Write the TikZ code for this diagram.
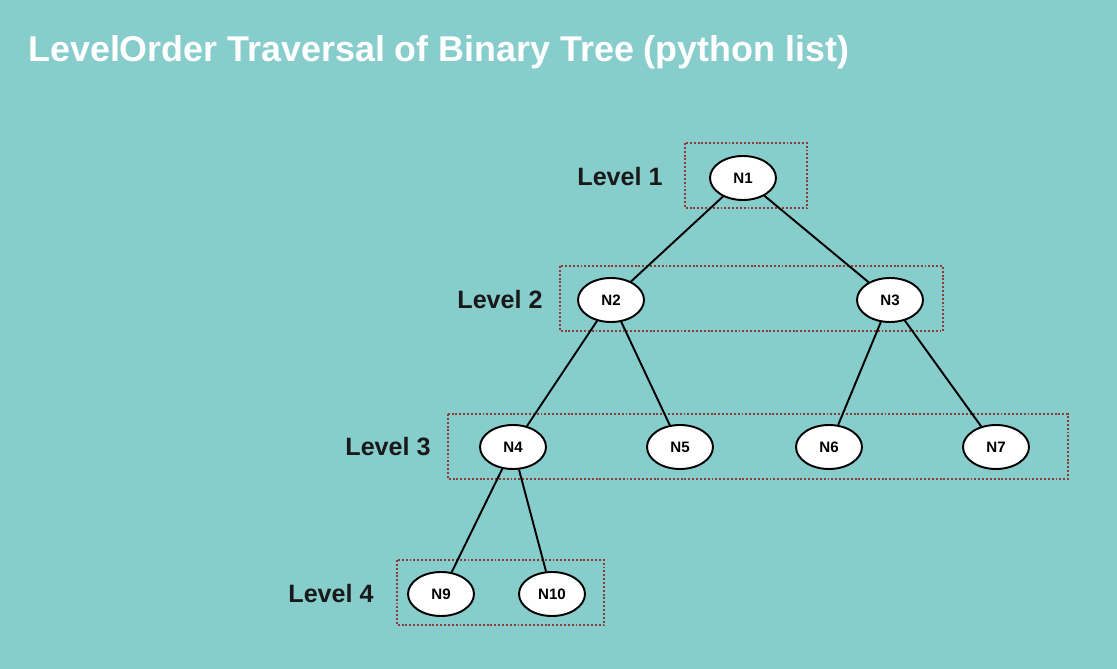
\documentclass[tikz,border=0pt]{standalone}
\usepackage{fontspec}
\setmainfont{Liberation Sans}
\usetikzlibrary{shapes.geometric}
\definecolor{bgteal}{RGB}{134,205,204}
\definecolor{boxred}{RGB}{140,60,55}

\begin{document}
\begin{tikzpicture}[x=0.02cm, y=-0.02cm,
    treenode/.style={ellipse, draw, line width=1.1pt, fill=white,
      minimum width=1.32cm, minimum height=0.88cm, inner sep=0pt,
      font=\bfseries\fontsize{8.6}{10}\selectfont},
    levelbox/.style={draw=boxred, line width=1.3pt,
      dash pattern=on 1.1pt off 1.1pt},
    levellabel/.style={text=black!90, font=\bfseries\fontsize{14.3}{17}\selectfont},
    edge/.style={line width=1.1pt}
  ]

  % Background and title
  \fill[bgteal] (0,0) rectangle (1117,669);
  \useasboundingbox (0,0) rectangle (1117,669);
  \node[anchor=base west, text=white, inner sep=0pt,
    font=\bfseries\fontsize{20.4}{24}\selectfont] (title) at (28,62)
    {LevelOrder Traversal of Binary Tree (python list)};

  % Level boxes
  \draw[levelbox] (685,143) rectangle (807,208);
  \draw[levelbox] (560,266) rectangle (943,331);
  \draw[levelbox] (448,414) rectangle (1068,479);
  \draw[levelbox] (397,560) rectangle (604,625);

  % Level labels
  \node[levellabel] (l1) at (620,177) {Level 1};
  \node[levellabel] (l2) at (500,300) {Level 2};
  \node[levellabel] (l3) at (388,447) {Level 3};
  \node[levellabel] (l4) at (331,594) {Level 4};

  % Tree nodes
  \node[treenode] (n1) at (743,178) {N1};
  \node[treenode] (n2) at (611,300) {N2};
  \node[treenode] (n3) at (890,300) {N3};
  \node[treenode] (n4) at (513,447) {N4};
  \node[treenode] (n5) at (680,447) {N5};
  \node[treenode] (n6) at (829,447) {N6};
  \node[treenode] (n7) at (996,447) {N7};
  \node[treenode] (n9) at (441,594) {N9};
  \node[treenode] (n10) at (552,594) {N10};

  % Edges
  \foreach \a/\b in {1/2,1/3,2/4,2/5,3/6,3/7,4/9,4/10}
    \draw[edge] (n\a) -- (n\b);

\end{tikzpicture}
\end{document}
